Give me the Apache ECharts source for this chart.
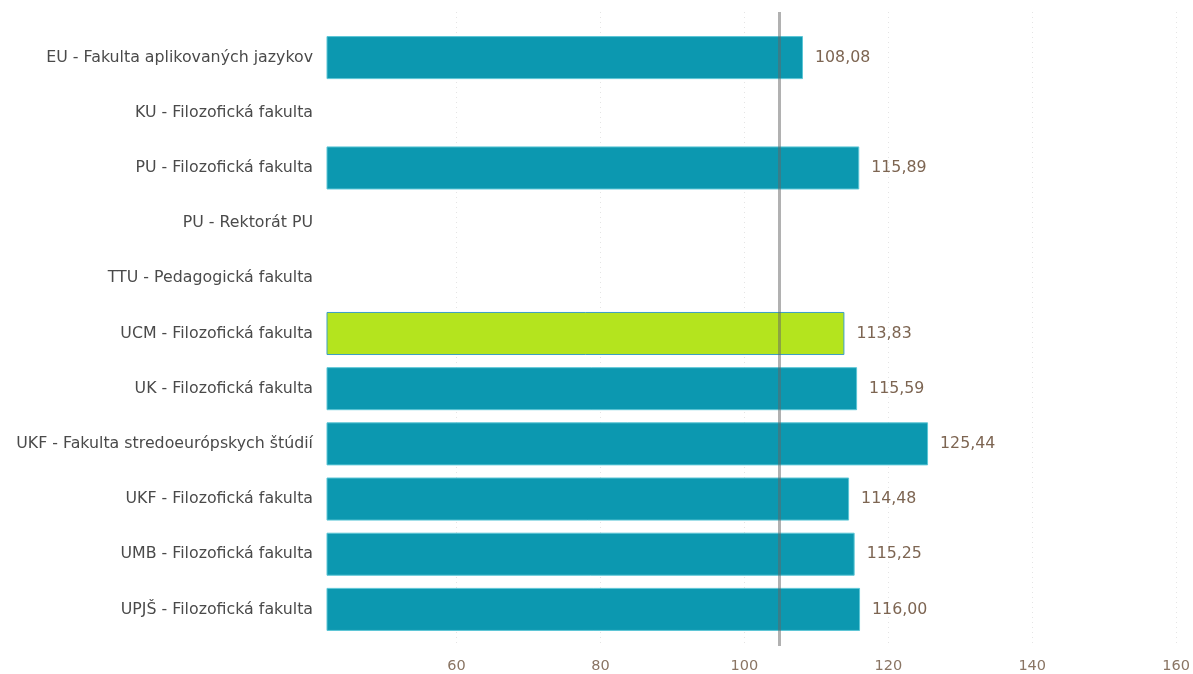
<!DOCTYPE html>
<html>
<head>
<meta charset="utf-8">
<script src="https://cdn.jsdelivr.net/npm/echarts@6/dist/echarts.min.js"></script>
<style>
  html, body { margin: 0; padding: 0; background: #fff; }
  #chart { width: 1193px; height: 674px; }
</style>
</head>
<body>
<div id="chart"></div>
<script>
const categories = [
  "EU - Fakulta aplikovaných jazykov",
  "KU - Filozofická fakulta",
  "PU - Filozofická fakulta",
  "PU - Rektorát PU",
  "TTU - Pedagogická fakulta",
  "UCM - Filozofická fakulta",
  "UK - Filozofická fakulta",
  "UKF - Fakulta stredoeurópskych štúdií",
  "UKF - Filozofická fakulta",
  "UMB - Filozofická fakulta",
  "UPJŠ - Filozofická fakulta"
];
const values = [108.08, null, 115.89, null, null, 113.83, 115.59, 125.44, 114.48, 115.25, 116.00];
const highlighted = "UCM - Filozofická fakulta";
const average = 104.9;
const tickValues = [60, 80, 100, 120, 140, 160];
const axisMin = 42;
const axisMax = 160;

const fmt = (v) => v.toFixed(2).replace(".", ",");

const barData = values.map((v, i) => {
  if (categories[i] === highlighted) {
    return {
      value: v,
      itemStyle: { color: "#b4e41e", borderColor: "#3d9fc4", borderWidth: 1 }
    };
  }
  return v;
});

const chart = echarts.init(document.getElementById("chart"));
chart.setOption({
  animation: false,
  backgroundColor: "#fff",
  textStyle: { fontFamily: "DejaVu Sans" },
  grid: [
    { left: 327, right: 16, top: 30, height: 607 },
    { left: 327, right: 16, top: 12, height: 641 }
  ],
  xAxis: [
    {
      gridIndex: 0, type: "value", min: axisMin, max: axisMax,
      show: false, splitLine: { show: false }
    },
    {
      gridIndex: 1, type: "value", min: axisMin, max: axisMax,
      axisLine: { show: false },
      axisTick: { show: false, customValues: tickValues },
      axisLabel: {
        customValues: tickValues,
        color: "#8a7564", fontSize: 14.5, margin: 13
      },
      splitLine: {
        show: true,
        lineStyle: { color: "#e4e4e4", type: [1, 4], width: 1 }
      }
    }
  ],
  yAxis: [
    {
      gridIndex: 0, type: "category", data: categories, inverse: true,
      axisLine: { show: false }, axisTick: { show: false },
      axisLabel: { color: "#4a4a4a", fontSize: 15.8, margin: 14 }
    },
    { gridIndex: 1, type: "value", show: false, min: 0, max: 1 }
  ],
  series: [
    {
      type: "bar",
      xAxisIndex: 0, yAxisIndex: 0,
      data: barData,
      barCategoryGap: "22%",
      itemStyle: { color: "#0c98b0", borderColor: "#5cc6d6", borderWidth: 1 },
      label: {
        show: true, position: "right", distance: 12,
        color: "#7d6552", fontSize: 15.8,
        formatter: (p) => (p.value == null ? "" : fmt(p.value))
      },
      z: 2
    },
    {
      type: "line",
      xAxisIndex: 1, yAxisIndex: 1,
      data: [],
      z: 5,
      markLine: {
        silent: true,
        symbol: "none",
        label: { show: false },
        lineStyle: { color: "rgba(100,100,100,0.5)", width: 3, type: "solid" },
        data: [{ xAxis: average }]
      }
    }
  ]
});
</script>
</body>
</html>
